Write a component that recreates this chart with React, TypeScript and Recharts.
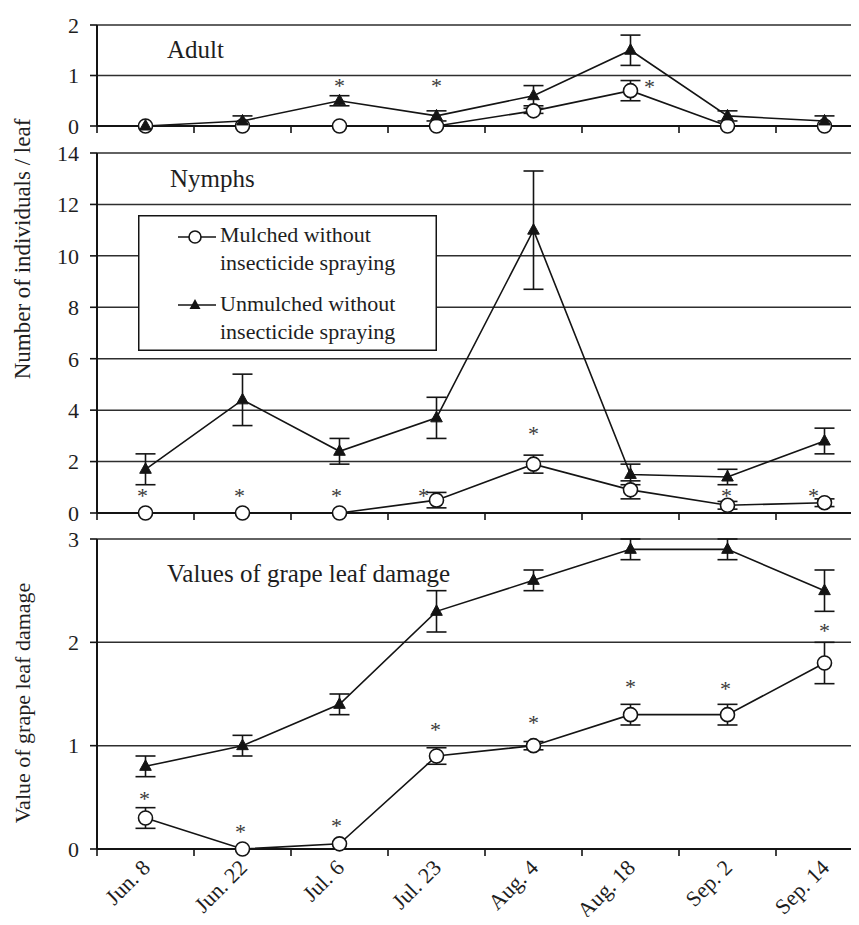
import React from 'react';
import { LineChart, Line, XAxis, YAxis, CartesianGrid, ErrorBar, Legend } from 'recharts';

const categories = ['Jun. 8', 'Jun. 22', 'Jul. 6', 'Jul. 23', 'Aug. 4', 'Aug. 18', 'Sep. 2', 'Sep. 14'];

const adultMulched = [0, 0, 0, 0, 0.3, 0.7, 0, 0];
const adultMulchedErr = [0, 0, 0, 0, 0.05, 0.2, 0, 0];
const adultUnmulched = [0, 0.1, 0.5, 0.2, 0.6, 1.5, 0.2, 0.1];
const adultUnmulchedErr = [0, 0.1, 0.1, 0.1, 0.2, 0.3, 0.1, 0.1];
const adultStar = [null, null, 0.85, 0.85, null, 0.83, null, null];

const nymphMulched = [0, 0, 0, 0.5, 1.9, 0.9, 0.3, 0.4];
const nymphMulchedErr = [0, 0, 0, 0.3, 0.35, 0.35, 0.15, 0.15];
const nymphUnmulched = [1.7, 4.4, 2.4, 3.7, 11.0, 1.5, 1.4, 2.8];
const nymphUnmulchedErr = [0.6, 1.0, 0.5, 0.8, 2.3, 0.4, 0.3, 0.5];
const nymphStar = [0.78, 0.78, 0.78, 0.78, 3.2, null, 0.78, 0.78];

const damageMulched = [0.3, 0, 0.05, 0.9, 1.0, 1.3, 1.3, 1.8];
const damageMulchedErr = [0.1, 0, 0, 0.08, 0.04, 0.1, 0.1, 0.2];
const damageUnmulched = [0.8, 1.0, 1.4, 2.3, 2.6, 2.9, 2.9, 2.5];
const damageUnmulchedErr = [0.1, 0.1, 0.1, 0.2, 0.1, 0.1, 0.1, 0.2];
const damageStar = [0.51, 0.19, 0.25, 1.18, 1.25, 1.6, 1.58, 2.14];

const adultTicks = [0, 1, 2];
const nymphTicks = [0, 2, 4, 6, 8, 10, 12, 14];
const damageTicks = [0, 1, 2, 3];

const seriesNames = ['Mulched without insecticide spraying', 'Unmulched without insecticide spraying'];

// horizontal nudges (px) for the asterisks that sit beside a point
const adultStarNudge = [0, 0, 0, 0, 0, 19, 0, 0];
const nymphStarNudge = [-3, -3, -3, -13, 0, 0, -1, -11];
const damageStarNudge = [-1, -2, -3, -1, 0, 0, -2, 0];

const FONT = '"Liberation Serif", "Times New Roman", serif';
const INK = '#141414';

const xTicks = categories.flatMap((_, i) => [i, i + 0.5]).concat(categories.length);

const buildRows = (m: number[], mErr: number[], u: number[], uErr: number[], star: (number | null)[]) =>
  categories.map((c, i) => ({
    x: i + 0.5,
    name: c,
    m: m[i],
    mErr: mErr[i],
    u: u[i],
    uErr: uErr[i],
    star: star[i],
  }));

const adultRows = buildRows(adultMulched, adultMulchedErr, adultUnmulched, adultUnmulchedErr, adultStar);
const nymphRows = buildRows(nymphMulched, nymphMulchedErr, nymphUnmulched, nymphUnmulchedErr, nymphStar);
const damageRows = buildRows(damageMulched, damageMulchedErr, damageUnmulched, damageUnmulchedErr, damageStar);

const CircleDot = (props: any) => {
  const { cx, cy, index } = props;
  if (cx == null || cy == null) return <g key={index} />;
  return <circle key={index} cx={cx} cy={cy} r={7} fill="#fff" stroke={INK} strokeWidth={1.6} />;
};

const TriangleDot = (props: any) => {
  const { cx, cy, index } = props;
  if (cx == null || cy == null) return <g key={index} />;
  return (
    <polygon
      key={index}
      points={`${cx},${cy - 6.5} ${cx - 5.8},${cy + 4} ${cx + 5.8},${cy + 4}`}
      fill={INK}
      stroke={INK}
      strokeWidth={1}
    />
  );
};

const makeStar = (nudge: number[]) => (props: any) => {
  const { cx, cy, index, value } = props;
  if (value == null || cx == null || cy == null) return <g key={index} />;
  return (
    <text key={index} x={cx + nudge[index]} y={cy + 10} textAnchor="middle" fontSize={22} fill="#3a3a3a">
      *
    </text>
  );
};

const makeXTick = (showLabels: boolean) => (props: any) => {
  const { x, y, payload, index } = props;
  const v = payload.value as number;
  if (Number.isInteger(v)) {
    return <line key={index} x1={x} y1={y} x2={x} y2={y + 7} stroke={INK} strokeWidth={1.6} />;
  }
  if (!showLabels) return <g key={index} />;
  const label = categories[Math.floor(v)];
  const ax = x + 6;
  const ay = y + 20;
  return (
    <text key={index} x={ax} y={ay} textAnchor="end" transform={`rotate(-45 ${ax} ${ay})`} fontSize={22} fill="#1e1e1e">
      {label}
    </text>
  );
};

const LegendBox = () => (
  <svg width={299} height={136} style={{ display: 'block' }}>
    <rect x={0.75} y={0.75} width={297.5} height={134.5} fill="#fff" stroke={INK} strokeWidth={1.5} />
    {seriesNames.map((n, i) => {
      const cut = n.indexOf(' insecticide');
      const first = n.slice(0, cut);
      const second = n.slice(cut + 1);
      const my = i === 0 ? 22 : 90;
      const ty = i === 0 ? 27 : 96;
      return (
        <g key={n}>
          <line x1={40} y1={my} x2={78} y2={my} stroke={INK} strokeWidth={1.6} />
          {i === 0 ? (
            <circle cx={57} cy={my} r={6} fill="#fff" stroke={INK} strokeWidth={1.6} />
          ) : (
            <polygon points={`57,${my - 6} 51.5,${my + 4} 62.5,${my + 4}`} fill={INK} />
          )}
          <text x={82} y={ty} fontSize={22} fill="#1e1e1e">
            {first}
          </text>
          <text x={82} y={ty + 28} fontSize={22} fill="#1e1e1e">
            {second}
          </text>
        </g>
      );
    })}
  </svg>
);

interface PanelProps {
  rows: any[];
  yTicks: number[];
  height: number;
  top: number;
  marginTop: number;
  marginBottom: number;
  showLabels: boolean;
  starNudge: number[];
  withLegend?: boolean;
}

const Panel: React.FC<PanelProps> = ({ rows, yTicks, height, top, marginTop, marginBottom, showLabels, starNudge, withLegend }) => (
  <div style={{ position: 'absolute', left: 0, top }}>
    <LineChart
      width={900}
      height={height}
      data={rows}
      margin={{ top: marginTop, right: 27, bottom: marginBottom, left: 37 }}
    >
      <CartesianGrid horizontal vertical={false} stroke="#2e2e2e" strokeWidth={1.5} />
      <XAxis
        dataKey="x"
        type="number"
        domain={[0, categories.length]}
        ticks={xTicks}
        interval={0}
        height={10}
        tickSize={0}
        tickMargin={0}
        tickLine={false}
        axisLine={{ stroke: INK, strokeWidth: 2 }}
        tick={makeXTick(showLabels)}
      />
      <YAxis
        type="number"
        domain={[yTicks[0], yTicks[yTicks.length - 1]]}
        ticks={yTicks}
        interval={0}
        width={60}
        tickSize={7}
        tickMargin={11}
        axisLine={{ stroke: INK, strokeWidth: 2 }}
        tickLine={{ stroke: INK, strokeWidth: 1.6 }}
        tick={{ fontSize: 22, fill: '#1e1e1e' }}
      />
      {withLegend && (
        <Legend
          layout="horizontal"
          verticalAlign="middle"
          align="center"
          width={299}
          height={136}
          wrapperStyle={{ left: 138, top: 75, width: 299, height: 136 }}
          content={() => <LegendBox />}
        />
      )}
      <Line
        dataKey="m"
        name={seriesNames[0]}
        type="linear"
        stroke={INK}
        strokeWidth={1.6}
        dot={CircleDot}
        activeDot={false}
        isAnimationActive={false}
      >
        <ErrorBar dataKey="mErr" width={10} stroke={INK} strokeWidth={1.6} direction="y" />
      </Line>
      <Line
        dataKey="u"
        name={seriesNames[1]}
        type="linear"
        stroke={INK}
        strokeWidth={1.6}
        dot={TriangleDot}
        activeDot={false}
        isAnimationActive={false}
      >
        <ErrorBar dataKey="uErr" width={10} stroke={INK} strokeWidth={1.6} direction="y" />
      </Line>
      <Line
        dataKey="star"
        stroke="none"
        legendType="none"
        dot={makeStar(starNudge)}
        activeDot={false}
        isAnimationActive={false}
      />
    </LineChart>
  </div>
);

export default function App() {
  return (
    <div
      style={{
        position: 'relative',
        width: 859,
        height: 925,
        margin: -8,
        overflow: 'hidden',
        background: '#fff',
        fontFamily: FONT,
      }}
    >
      <style>{`svg text { font-family: ${FONT}; }`}</style>
      <Panel rows={adultRows} yTicks={adultTicks} top={0} height={140} marginTop={25} marginBottom={4} showLabels={false} starNudge={adultStarNudge} />
      <Panel rows={nymphRows} yTicks={nymphTicks} top={140} height={385} marginTop={13} marginBottom={2} showLabels={false} starNudge={nymphStarNudge} withLegend />
      <Panel rows={damageRows} yTicks={damageTicks} top={525} height={400} marginTop={14} marginBottom={66} showLabels starNudge={damageStarNudge} />
      <svg width={859} height={925} style={{ position: 'absolute', left: 0, top: 0, pointerEvents: 'none' }}>
        <text x={167} y={58} fontSize={25} fill="#1e1e1e">Adult</text>
        <text x={170} y={187} fontSize={25} fill="#1e1e1e">Nymphs</text>
        <text x={167} y={582} fontSize={25} fill="#1e1e1e">Values of grape leaf damage</text>
        <text x={30} y={249} transform="rotate(-90 30 249)" textAnchor="middle" fontSize={23} fill="#1e1e1e">
          Number of individuals  / leaf
        </text>
        <text x={30} y={703} transform="rotate(-90 30 703)" textAnchor="middle" fontSize={22} fill="#1e1e1e">
          Value of grape leaf damage
        </text>
      </svg>
    </div>
  );
}
